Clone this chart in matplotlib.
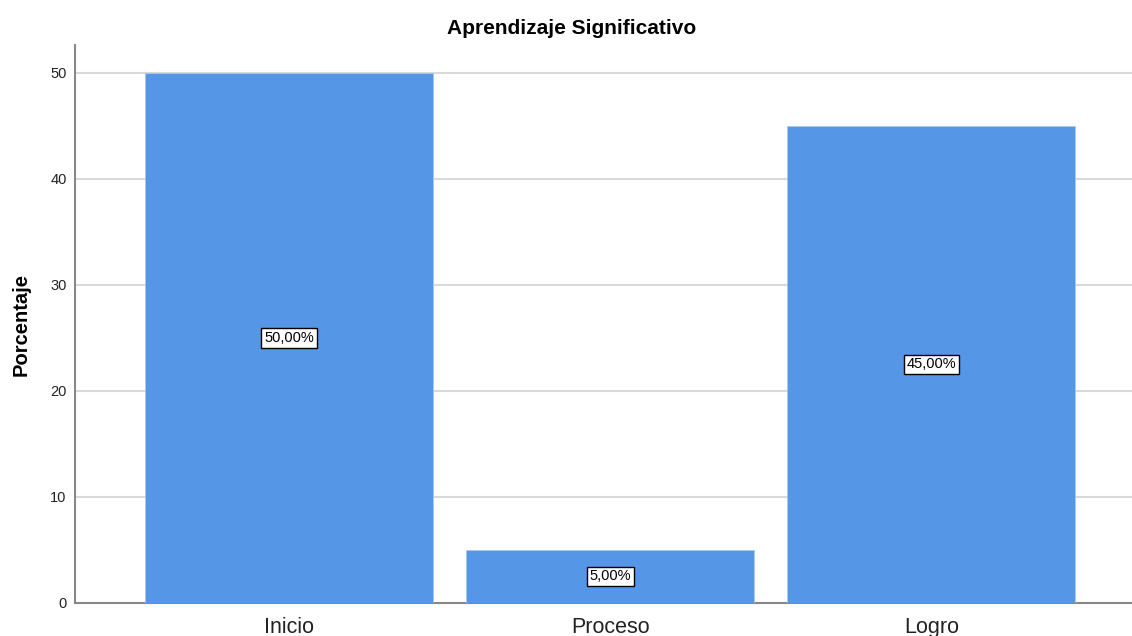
import matplotlib.pyplot as plt

categorias = ['Inicio', 'Proceso', 'Logro']
porcentajes = [50.0, 5.0, 45.0]
etiquetas = ['50,00%', '5,00%', '45,00%']

plt.rcParams['font.family'] = ['Liberation Sans', 'DejaVu Sans']

fig = plt.figure(figsize=(11.32, 6.36), dpi=100)
ax = fig.add_axes([75 / 1132, 33 / 636, 1 - 75 / 1132, 558 / 636])

x = range(len(categorias))
ax.bar(x, porcentajes, width=0.897, color='#5596E6', edgecolor='#A9C8EF', linewidth=0.6, zorder=3)

# etiquetas en el centro de cada barra
for i, (v, t) in enumerate(zip(porcentajes, etiquetas)):
    ax.text(i, v / 2, t, ha='center', va='center', fontsize=10.5, zorder=4,
            bbox=dict(boxstyle='square,pad=0.2', facecolor='white', edgecolor='black', linewidth=1))

ax.set_xlim(-0.667, 2.625)
ax.set_ylim(0, 52.64)
ax.set_yticks([0, 10, 20, 30, 40, 50])
ax.set_xticks(list(x))
ax.set_xticklabels(categorias, fontsize=15.5)
ax.tick_params(axis='both', length=0, colors='#222222')
ax.tick_params(axis='y', labelsize=10.5, pad=6)
ax.tick_params(axis='x', pad=10)
ax.grid(axis='y', color='#D9D9D9', linewidth=1.5, zorder=0)

for s in ['top', 'right']:
    ax.spines[s].set_visible(False)
ax.spines['left'].set_color('#888888')
ax.spines['bottom'].set_color('#888888')
ax.spines['left'].set_linewidth(1.5)
ax.spines['bottom'].set_linewidth(1.5)

ax.set_ylabel('Porcentaje', fontsize=14.5, fontweight='bold', labelpad=14)
fig.text(572 / 1132, 1 - 29 / 636, 'Aprendizaje Significativo', fontsize=15,
         fontweight='bold', ha='center', va='center')

fig.savefig('out.png', dpi=100)
